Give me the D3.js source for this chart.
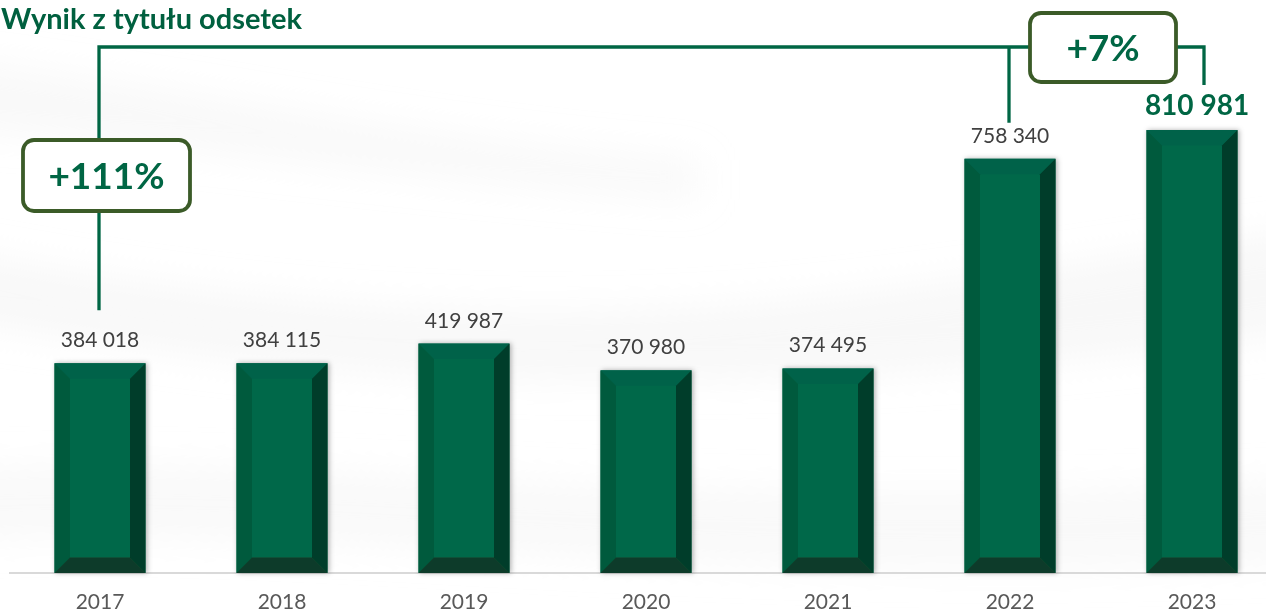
<!DOCTYPE html>
<html>
<head>
<meta charset="utf-8">
<script src="https://cdn.jsdelivr.net/npm/d3@7"></script>
<style>
  html, body { margin: 0; padding: 0; background: #ffffff; overflow: hidden; }
  svg { display: block; }
</style>
</head>
<body>
<svg id="chart" width="1266" height="614"></svg>
<script>
const title = "Wynik z tytułu odsetek";
const years = ["2017", "2018", "2019", "2020", "2021", "2022", "2023"];
const values = [384018, 384115, 419987, 370980, 374495, 758340, 810981];
const valueLabels = ["384 018", "384 115", "419 987", "370 980", "374 495", "758 340", "810 981"];
const changeLabels = ["+111%", "+7%"];

const W = 1266, H = 614;
const svg = d3.select("#chart");
const defs = svg.append("defs");

// background soft swooshes
const blur = defs.append("filter").attr("id", "blur").attr("x", "-20%").attr("y", "-50%").attr("width", "140%").attr("height", "200%");
blur.append("feGaussianBlur").attr("stdDeviation", 18);
const bg = svg.append("g").attr("filter", "url(#blur)");
bg.append("path").attr("d", "M-50,250 C200,300 500,330 800,300 C1000,280 1150,250 1320,230 L1320,330 C1100,360 900,380 600,380 C300,380 100,340 -50,320 Z").attr("fill", "#ededed").attr("opacity", 0.4);
bg.append("path").attr("d", "M-50,60 C150,80 400,140 700,160 L700,200 C400,180 150,140 -50,130 Z").attr("fill", "#ececec").attr("opacity", 0.3);
bg.append("path").attr("d", "M-50,470 C300,450 700,520 1320,480 L1320,560 C700,590 300,520 -50,540 Z").attr("fill", "#efefef").attr("opacity", 0.4);

const shadow = defs.append("filter").attr("id", "shadow").attr("x", "-20%").attr("y", "-10%").attr("width", "140%").attr("height", "120%");
shadow.append("feDropShadow").attr("dx", 1.5).attr("dy", 0).attr("stdDeviation", 2.5).attr("flood-color", "#000").attr("flood-opacity", 0.3);

const x = d3.scaleBand().domain(years).range([9, 1283]).paddingInner(0.5).paddingOuter(0.25);
const y = d3.scaleLinear().domain([0, 810981]).range([573, 130]);

// axis baseline
const xAxis = d3.axisBottom(x).tickSize(0).tickPadding(21);
const axisG = svg.append("g").attr("transform", "translate(0,573)").call(xAxis);
axisG.select(".domain").attr("stroke", "#d9d9d9").attr("stroke-width", 2).attr("d", "M9,0H1283");
axisG.selectAll("text").attr("font-family", "Lato, 'Open Sans', sans-serif").attr("font-size", 21).attr("fill", "#595959");

// bars with bevels
const bv = 15.5;
const bars = svg.append("g").selectAll("g.bar").data(values).join("g").attr("class", "bar").attr("filter", "url(#shadow)");
bars.each(function(v, i) {
  const g = d3.select(this);
  const x0 = x(years[i]), x1 = x0 + x.bandwidth();
  const y0 = y(v), y1 = y(0);
  g.append("rect").attr("x", x0).attr("y", y0).attr("width", x1 - x0).attr("height", y1 - y0).attr("fill", "#05684a");
  g.append("polygon").attr("points", [[x0,y0],[x1,y0],[x1-bv,y0+bv],[x0+bv,y0+bv]].join(" ")).attr("fill", "#05624a");
  g.append("polygon").attr("points", [[x0,y0],[x0+bv,y0+bv],[x0+bv,y1-bv],[x0,y1]].join(" ")).attr("fill", "#025a3d");
  g.append("polygon").attr("points", [[x1,y0],[x1,y1],[x1-bv,y1-bv],[x1-bv,y0+bv]].join(" ")).attr("fill", "#003d29");
  g.append("polygon").attr("points", [[x0,y1],[x0+bv,y1-bv],[x1-bv,y1-bv],[x1,y1]].join(" ")).attr("fill", "#0e3b29");
});

// value labels
svg.append("g").selectAll("text").data(values).join("text")
  .attr("x", (d, i) => x(years[i]) + x.bandwidth() / 2 + (i === values.length - 1 ? 5 : 0))
  .attr("y", (d, i) => y(d) - (i === values.length - 1 ? 15 : 16))
  .attr("text-anchor", "middle")
  .attr("font-family", "Lato, 'Open Sans', sans-serif")
  .attr("font-size", (d, i) => i === values.length - 1 ? 28 : 21)
  .attr("font-weight", (d, i) => i === values.length - 1 ? 700 : 400)
  .attr("fill", (d, i) => i === values.length - 1 ? "#006644" : "#404040")
  .text((d, i) => valueLabels[i]);

// connector lines
const green = "#006644";
const cx = i => x(years[i]) + x.bandwidth() / 2;
const topY = 47;
const conn = svg.append("g").attr("fill", "none").attr("stroke", green).attr("stroke-width", 3.3);
conn.append("path").attr("d", `M${cx(0) - 1},${y(values[0]) - 53}V${topY}H${cx(6) + 12}V${y(values[6]) - 45}`);
conn.append("path").attr("d", `M${cx(5) - 1},${topY}V${y(values[5]) - 36}`);

// change boxes
const boxes = [
  { x: 23, y: 140, w: 167, h: 71, label: changeLabels[0] },
  { x: 1030, y: 13, w: 146, h: 69, label: changeLabels[1] }
];
const bg2 = svg.append("g").selectAll("g").data(boxes).join("g");
bg2.append("rect").attr("x", d => d.x).attr("y", d => d.y).attr("width", d => d.w).attr("height", d => d.h)
  .attr("rx", 11).attr("fill", "#ffffff").attr("stroke", "#3b5b28").attr("stroke-width", 3.8);
bg2.append("text").attr("x", d => d.x + d.w / 2).attr("y", d => d.y + d.h / 2 + 13)
  .attr("text-anchor", "middle").attr("font-family", "Lato, 'Open Sans', sans-serif")
  .attr("font-size", 37).attr("font-weight", 700).attr("fill", green).text(d => d.label);

// title
svg.append("text").attr("x", 1).attr("y", 29).attr("font-family", "Lato, 'Open Sans', sans-serif")
  .attr("font-size", 29).attr("font-weight", 700).attr("fill", "#00603f").text(title);
</script>
</body>
</html>
